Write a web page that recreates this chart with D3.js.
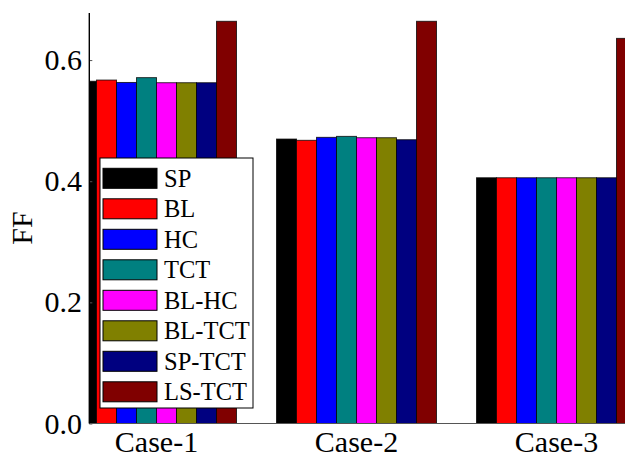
<!DOCTYPE html>
<html>
<head>
<meta charset="utf-8">
<script src="https://cdn.jsdelivr.net/npm/d3@7"></script>
<style>
  html, body { margin: 0; padding: 0; background: #fff; }
  svg { display: block; }
  svg text { font-family: 'Liberation Serif', 'Times New Roman', Times, 'DejaVu Serif', serif; }
</style>
</head>
<body>
<svg id="chart" width="625" height="459"></svg>
<script>
// Fill factor per case and method
const cases = ["Case-1", "Case-2", "Case-3"];
const methods = ["SP", "BL", "HC", "TCT", "BL-HC", "BL-TCT", "SP-TCT", "LS-TCT"];
const colors = ["#000000", "#ff0000", "#0000ff", "#008080", "#ff00ff", "#808000", "#000080", "#800000"];
const ffCase1 = [0.565, 0.567, 0.563, 0.571, 0.5626, 0.5626, 0.5626, 0.664];
const ffCase2 = [0.4696, 0.4675, 0.4724, 0.474, 0.4718, 0.4718, 0.4685, 0.664];
const ffCase3 = [0.4057, 0.4057, 0.4057, 0.4057, 0.4057, 0.4057, 0.4057, 0.6358];
const yTicks = [0.0, 0.2, 0.4, 0.6];

const series = [ffCase1, ffCase2, ffCase3];
const serif = "'Liberation Serif', 'Times New Roman', Times, 'DejaVu Serif', serif";

const svg = d3.select("#chart");
const plotLeft = 89.3, plotBottom = 423.5, plotTop = 13;

const x = d3.scaleLinear().domain([-0.336, 2.5]).range([plotLeft, plotLeft + 2.836 * 200]);
const y = d3.scaleLinear().domain([0, 0.6777]).range([plotBottom, plotTop]);
const barW = 0.1;

svg.append("clipPath").attr("id", "plotClip")
  .append("rect")
  .attr("x", plotLeft).attr("y", 0)
  .attr("width", 700).attr("height", plotBottom);

const bars = svg.append("g").attr("clip-path", "url(#plotClip)");
series.forEach((vals, ci) => {
  bars.selectAll(null)
    .data(vals.map((v, mi) => ({ v, mi })))
    .enter().append("rect")
    .attr("x", d => x(ci + (d.mi - 4) * barW))
    .attr("y", d => y(d.v))
    .attr("width", d => x(barW) - x(0))
    .attr("height", d => y(0) - y(d.v))
    .attr("fill", d => colors[d.mi])
    .attr("stroke", "#000")
    .attr("stroke-opacity", 0.75)
    .attr("stroke-width", 1);
});

// x axis baseline
svg.append("line")
  .attr("x1", plotLeft).attr("x2", 625)
  .attr("y1", plotBottom).attr("y2", plotBottom)
  .attr("stroke", "#555").attr("stroke-width", 1);

// y axis
const yAxis = d3.axisRight(y).tickValues(yTicks).tickSize(3).tickFormat("");
const yg = svg.append("g").attr("transform", `translate(${plotLeft},0)`).call(yAxis);
yg.select(".domain").remove();
yg.selectAll(".tick line").attr("stroke", "#555");
svg.append("line")
  .attr("x1", plotLeft).attr("x2", plotLeft)
  .attr("y1", plotTop).attr("y2", plotBottom)
  .attr("stroke", "#000").attr("stroke-width", 1.4);

svg.selectAll(".ytl")
  .data(yTicks).enter().append("text")
  .attr("class", "ytl")
  .attr("x", 82).attr("y", d => y(d) + 10)
  .attr("text-anchor", "end")
  .style("font-family", serif)
  .attr("font-size", 30)
  .attr("fill", "#000")
  .text(d => d.toFixed(1));

svg.selectAll(".xtl")
  .data(cases).enter().append("text")
  .attr("class", "xtl")
  .attr("x", (d, i) => x(i))
  .attr("y", 452)
  .attr("text-anchor", "middle")
  .style("font-family", serif)
  .attr("font-size", 30)
  .attr("fill", "#000")
  .text(d => d);

svg.append("text")
  .attr("transform", "translate(32,228) rotate(-90)")
  .attr("text-anchor", "middle")
  .style("font-family", serif)
  .attr("font-size", 30)
  .attr("fill", "#000")
  .text("FF");

// legend
const lg = svg.append("g");
lg.append("rect")
  .attr("x", 100).attr("y", 158)
  .attr("width", 153).attr("height", 250)
  .attr("fill", "#fff").attr("stroke", "#000").attr("stroke-width", 1);
const rowY = i => 178.3 + i * 30.5;
lg.selectAll(".lp").data(methods).enter().append("rect")
  .attr("x", 103).attr("y", (d, i) => rowY(i) - 10)
  .attr("width", 54).attr("height", 20)
  .attr("fill", (d, i) => colors[i])
  .attr("stroke", "#000").attr("stroke-width", 1);
lg.selectAll(".lt").data(methods).enter().append("text")
  .attr("x", 164).attr("y", (d, i) => rowY(i) + 8.3)
  .style("font-family", serif)
  .attr("font-size", 24.5)
  .attr("fill", "#000")
  .text(d => d);
</script>
</body>
</html>
